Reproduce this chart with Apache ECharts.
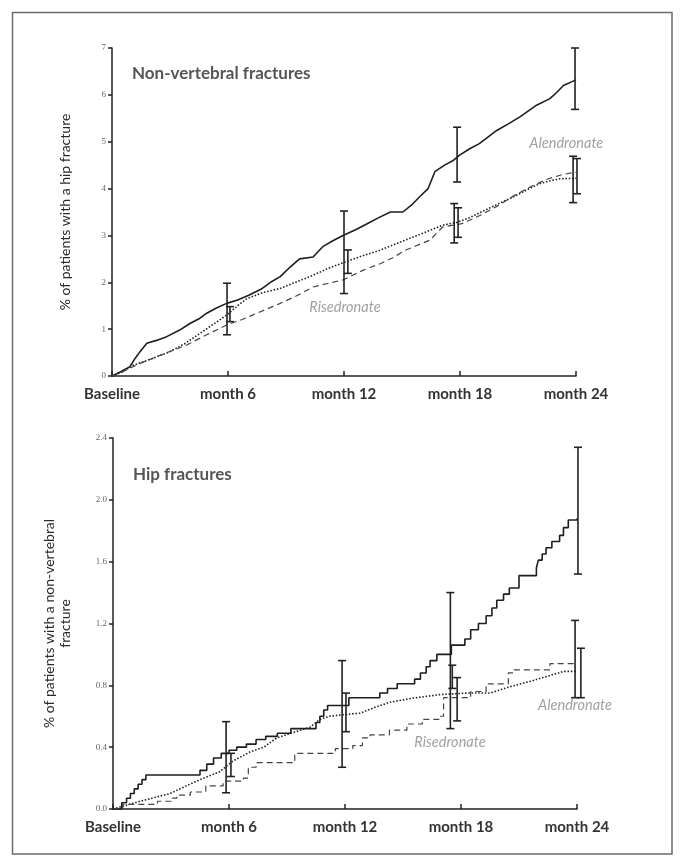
<!DOCTYPE html>
<html>
<head>
<meta charset="utf-8">
<script src="https://cdn.jsdelivr.net/npm/echarts@6/dist/echarts.min.js"></script>
<style>
html,body{margin:0;padding:0;background:#fff;}
#chart{width:685px;height:867px;}
</style>
</head>
<body>
<div id="chart"></div>
<script>
// ---------- data ----------
const xTickLabels = ['Baseline', 'month 6', 'month 12', 'month 18', 'month 24'];
const nvYTicks = ['0', '1', '2', '3', '4', '5', '6', '7'];
const hipYTicks = ['0.0', '0.4', '0.8', '1.2', '1.6', '2.0', '2.4'];

// Non-vertebral fractures panel  [month, %]
const nvSolid = [[0,0],[0.5,0.1],[0.93,0.2],[1.2,0.38],[1.45,0.52],[1.8,0.70],[2.3,0.76],[2.83,0.84],[3.5,0.98],[4.03,1.12],[4.5,1.22],[4.9,1.34],[5.4,1.45],[5.93,1.55],[6.5,1.62],[7.1,1.73],[7.7,1.85],[8.2,2.0],[8.7,2.12],[9.2,2.32],[9.7,2.5],[10.4,2.54],[10.9,2.76],[11.4,2.88],[11.95,3.0],[12.6,3.12],[13.2,3.25],[13.8,3.38],[14.4,3.5],[15.05,3.5],[15.5,3.65],[15.9,3.82],[16.35,4.0],[16.7,4.36],[17.2,4.5],[17.65,4.6],[18.0,4.72],[18.5,4.85],[19.0,4.96],[19.9,5.24],[20.5,5.38],[21.1,5.53],[21.96,5.78],[22.65,5.92],[23.0,6.05],[23.35,6.2],[24,6.32]];
const nvDotted = [[0,0],[0.5,0.08],[1.1,0.23],[2.0,0.36],[3.0,0.52],[3.8,0.7],[4.55,0.91],[5.3,1.12],[5.93,1.3],[6.5,1.5],[6.97,1.65],[7.8,1.78],[8.7,1.87],[9.5,2.0],[10.4,2.15],[11.2,2.3],[12.1,2.44],[13.0,2.57],[13.9,2.69],[14.8,2.84],[15.6,2.97],[16.4,3.1],[17.1,3.22],[17.85,3.28],[18.5,3.38],[19.0,3.48],[19.9,3.66],[20.75,3.82],[21.4,3.96],[22.1,4.1],[22.6,4.16],[23.2,4.21],[24,4.22]];
const nvDashed = [[0,0],[0.6,0.1],[1.45,0.27],[2.6,0.46],[3.86,0.66],[4.9,0.88],[5.93,1.09],[6.7,1.2],[7.5,1.34],[8.3,1.48],[8.7,1.55],[9.5,1.7],[10.4,1.9],[11.2,1.98],[11.95,2.05],[13.0,2.26],[13.9,2.4],[14.5,2.52],[15.2,2.69],[16.45,2.9],[17.1,3.18],[18.1,3.25],[19.0,3.42],[19.9,3.62],[20.8,3.85],[21.7,4.05],[22.5,4.2],[23.3,4.3],[24,4.35]];
// error bars [month, low, high]
const nvErrors = [[5.95,0.88,1.98],[6.1,1.16,1.48],[12.0,1.76,3.52],[12.2,2.19,2.69],[17.85,4.14,5.31],[17.7,2.84,3.68],[17.9,2.96,3.59],[23.95,5.69,7.0],[23.85,3.70,4.69],[24.05,3.89,4.64]];
const nvNotes = [{name:'Alendronate', value:[23.5,4.97]},{name:'Risedronate', value:[12.05,1.47]}];

// Hip fractures panel  [month, %]
const hipSolid = [[0,0],[0.45,0.04],[0.7,0.07],[0.9,0.1],[1.1,0.13],[1.3,0.16],[1.5,0.19],[1.7,0.22],[4.5,0.25],[4.85,0.29],[5.2,0.33],[5.6,0.36],[6.0,0.38],[6.4,0.40],[6.9,0.42],[7.4,0.45],[7.9,0.47],[8.5,0.49],[9.2,0.52],[10.5,0.56],[10.7,0.60],[10.9,0.64],[11.1,0.67],[12.2,0.72],[13.8,0.75],[14.2,0.78],[14.7,0.81],[15.6,0.84],[15.9,0.88],[16.2,0.92],[16.4,0.96],[16.75,1.0],[17.5,1.06],[18.2,1.10],[18.5,1.16],[18.9,1.20],[19.3,1.25],[19.6,1.30],[19.85,1.35],[20.2,1.39],[20.5,1.43],[21.0,1.51],[21.9,1.56],[22.0,1.61],[22.2,1.65],[22.4,1.69],[22.7,1.73],[23.1,1.77],[23.3,1.82],[23.55,1.87],[24,1.88]];
const hipDotted = [[0,0],[1.4,0.05],[2.95,0.10],[3.8,0.15],[4.5,0.19],[5.5,0.24],[6.2,0.31],[7.1,0.37],[7.8,0.40],[8.47,0.46],[9.2,0.49],[10.2,0.53],[10.7,0.58],[11.2,0.60],[11.9,0.61],[12.8,0.62],[13.6,0.66],[14.3,0.69],[15.4,0.715],[16.9,0.74],[18.3,0.75],[19.5,0.75],[20.5,0.79],[21.7,0.83],[23.3,0.89],[24,0.89]];
const hipDashed = [[0,0],[0.5,0.03],[2.3,0.05],[3.0,0.07],[3.3,0.09],[4.0,0.11],[4.8,0.15],[5.7,0.18],[6.75,0.20],[7.0,0.27],[7.4,0.30],[9.4,0.36],[11.5,0.39],[12.4,0.41],[12.9,0.46],[13.3,0.48],[14.3,0.51],[15.2,0.55],[16.0,0.58],[16.9,0.60],[17.1,0.72],[18.5,0.76],[19.3,0.81],[20.45,0.88],[20.7,0.90],[22.6,0.94],[24,0.94]];
const hipErrors = [[5.85,0.105,0.565],[6.1,0.21,0.36],[11.85,0.27,0.96],[12.05,0.50,0.75],[17.45,0.52,1.40],[17.55,0.78,0.93],[17.8,0.57,0.85],[24.05,1.52,2.34],[23.9,0.72,1.22],[24.2,0.72,1.04]];
const hipNotes = [{name:'Risedronate', value:[17.43,0.43]},{name:'Alendronate', value:[23.9,0.67]}];

// ---------- chart ----------
const chart = echarts.init(document.getElementById('chart'), null, {renderer:'canvas'});
const LINE = '#1e1e1e';
const TICKFONT = {fontFamily:'Liberation Serif', fontSize:9, color:'#666'};

function errRender(params, api){
  const lo = api.coord([api.value(0), api.value(1)]);
  const hi = api.coord([api.value(0), api.value(2)]);
  const w = 4;
  const st = {stroke:'#222', lineWidth:1.6};
  return {type:'group', children:[
    {type:'line', shape:{x1:lo[0], y1:lo[1], x2:hi[0], y2:hi[1]}, style:st},
    {type:'line', shape:{x1:hi[0]-w, y1:hi[1], x2:hi[0]+w, y2:hi[1]}, style:st},
    {type:'line', shape:{x1:lo[0]-w, y1:lo[1], x2:lo[0]+w, y2:lo[1]}, style:st}
  ]};
}

function xAxisDef(gi){
  return {
    type:'value', gridIndex:gi, min:0, max:24, interval:6,
    axisLine:{show:true, lineStyle:{color:'#222', width:1.5}},
    axisTick:{show:true, inside:true, length:5, lineStyle:{color:'#222', width:1.5}},
    splitLine:{show:false},
    axisLabel:{margin:11, fontFamily:'Lato', fontWeight:'bold', fontSize:15, color:'#333',
      formatter:(v)=> xTickLabels[Math.round(v/6)] || ''}
  };
}
function yAxisDef(gi, max, interval, labels, name, nameGap){
  return {
    type:'value', gridIndex:gi, min:0, max:max, interval:interval,
    axisLine:{show:true, lineStyle:{color:'#222', width:1.5}},
    axisTick:{show:true, inside:false, length:4, lineStyle:{color:'#222', width:1.5}},
    splitLine:{show:false},
    axisLabel:Object.assign({margin:6, formatter:(v)=> labels[Math.round(v/interval)] || ''}, TICKFONT),
    name:name, nameLocation:'middle', nameRotate:90, nameGap:nameGap,
    nameTextStyle:{fontFamily:'Lato', fontSize:14, color:'#2a2a2a', lineHeight:16, align:'center'}
  };
}
function lineSeries(xi, data, type, width, color, step){
  const s = {type:'line', xAxisIndex:xi, yAxisIndex:xi, data:data, symbol:'none', silent:true,
    lineStyle:{color:color, width:width, type:type}, z:3};
  if (step) s.step = step;
  if (type === 'dashed') s.lineStyle.type = [6,4];
  if (type === 'dotted') s.lineStyle.type = [1.5,1.8];
  return s;
}
function errSeries(xi, data){
  return {type:'custom', xAxisIndex:xi, yAxisIndex:xi, data:data, renderItem:errRender,
    encode:{x:0, y:[1,2]}, silent:true, z:4};
}
function noteSeries(xi, data){
  return {type:'scatter', xAxisIndex:xi, yAxisIndex:xi, data:data, symbolSize:0, silent:true,
    label:{show:true, position:'inside', formatter:'{b}', fontFamily:'Lato', fontStyle:'italic',
      fontSize:14.5, color:'#888'}, z:5};
}

const option = {
  animation:false,
  backgroundColor:'#fff',
  title:[
    {text:'Non-vertebral fractures', left:127, top:60,
      textStyle:{fontFamily:'Lato', fontWeight:'bold', fontSize:17, color:'#555'}},
    {text:'Hip fractures', left:128, top:461,
      textStyle:{fontFamily:'Lato', fontWeight:'bold', fontSize:17, color:'#555'}}
  ],
  graphic:[{type:'rect', shape:{x:12.5, y:12.5, width:659.5, height:841.5},
    style:{fill:'none', stroke:'#6a6a6a', lineWidth:1.5}, silent:true}],
  grid:[
    {left:112, top:48, width:464, height:328},
    {left:113, top:438, width:464, height:371}
  ],
  xAxis:[xAxisDef(0), xAxisDef(1)],
  yAxis:[
    yAxisDef(0, 7, 1, nvYTicks, '% of patients with a hip fracture', 39),
    yAxisDef(1, 2.4, 0.4, hipYTicks, '% of patients with a non-vertebral\nfracture', 40)
  ],
  series:[
    lineSeries(0, nvSolid, 'solid', 1.6, LINE),
    lineSeries(0, nvDotted, 'dotted', 1.6, LINE),
    lineSeries(0, nvDashed, 'dashed', 1.2, '#444'),
    errSeries(0, nvErrors),
    noteSeries(0, nvNotes),
    lineSeries(1, hipSolid, 'solid', 1.6, LINE, 'end'),
    lineSeries(1, hipDotted, 'dotted', 1.6, LINE),
    lineSeries(1, hipDashed, 'dashed', 1.2, '#444', 'end'),
    errSeries(1, hipErrors),
    noteSeries(1, hipNotes)
  ]
};
chart.setOption(option);
</script>
</body>
</html>
